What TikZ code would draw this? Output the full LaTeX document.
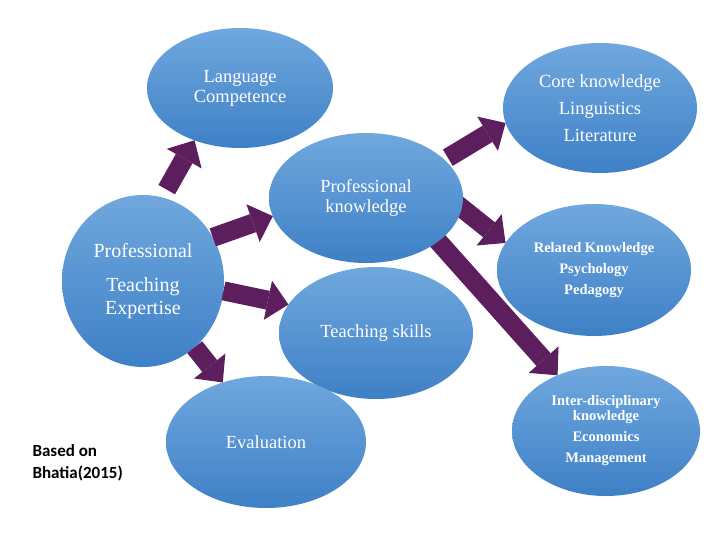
\documentclass[tikz,border=0pt]{standalone}
\usepackage{fontspec}
\setmainfont{Liberation Serif}
\newfontfamily\notefont{Carlito}
\usetikzlibrary{shapes.geometric,arrows.meta}
\pgfdeclarelayer{fg}
\pgfsetlayers{main,fg}
\definecolor{ctop}{RGB}{112,168,222}
\definecolor{cbot}{RGB}{62,128,198}
\definecolor{acol}{RGB}{92,30,92}
\begin{document}
\begin{tikzpicture}[x=1pt,y=-1pt,
  ell/.style={ellipse, inner sep=0pt, outer sep=0pt, top color=ctop, bottom color=cbot, draw=none, text=white, align=center},
  reg/.style={font=\fontsize{18.5}{20}\selectfont},
  bld/.style={font=\fontsize{14.5}{21}\selectfont\bfseries},
  barrow/.style={draw=acol, line width=19pt, -{Triangle[width=40pt,length=21pt,line width=0pt]}}]
\useasboundingbox[fill=white] (0,0) rectangle (720,540);

\node[ell, reg, minimum width=186pt, minimum height=120pt] (lc) at (240,88) {Language\\Competence};
\node[ell, font=\fontsize{18.5}{27}\selectfont, minimum width=194pt, minimum height=130pt] (ck) at (600,108) {Core knowledge\\Linguistics\\Literature};
\node[ell, font=\fontsize{20}{23}\selectfont, minimum width=162pt, minimum height=172pt] (pte) at (143,281) {Professional\\[11pt]Teaching\\Expertise};
\node[ell, reg, minimum width=194pt, minimum height=132pt] (ts) at (376,333) {Teaching skills};
\node[ell, bld, minimum width=194pt, minimum height=132pt] (rk) at (594,270) {Related Knowledge\\Psychology\\Pedagogy};
\node[ell, bld, minimum width=188pt, minimum height=130pt] (id) at (606,431) {Inter-disciplinary\\[-6pt]knowledge\\Economics\\Management};
\node[ell, reg, minimum width=200pt, minimum height=132pt] (ev) at (266,442) {Evaluation};
\begin{pgfonlayer}{fg}
\node[ell, reg, minimum width=194pt, minimum height=130pt] (pk) at (366,198) {Professional\\knowledge};
\end{pgfonlayer}

\node[anchor=west, align=left, font=\notefont\fontsize{17}{22}\selectfont\bfseries] (note) at (29,463) {Based on\\Bhatia(2015)};

\draw[barrow, shorten <=9pt] (pte.77.9) -- (lc.-131);
\draw[barrow] (pte.32.5) -- (pk.191.5);
\draw[barrow] (pte.-7.7) -- (ts.162.7);
\draw[barrow] (pte.-52) -- (ev.126.1);
\draw[barrow, shorten <=4pt] (pk.26.6) -- (ck.189.2);
\draw[barrow, shorten <=-8pt] (pk.-6.8) -- (rk.163.4);
\draw[barrow, shorten <=-8pt] (pk.-31.9) -- (id.131.6);
\end{tikzpicture}
\end{document}
